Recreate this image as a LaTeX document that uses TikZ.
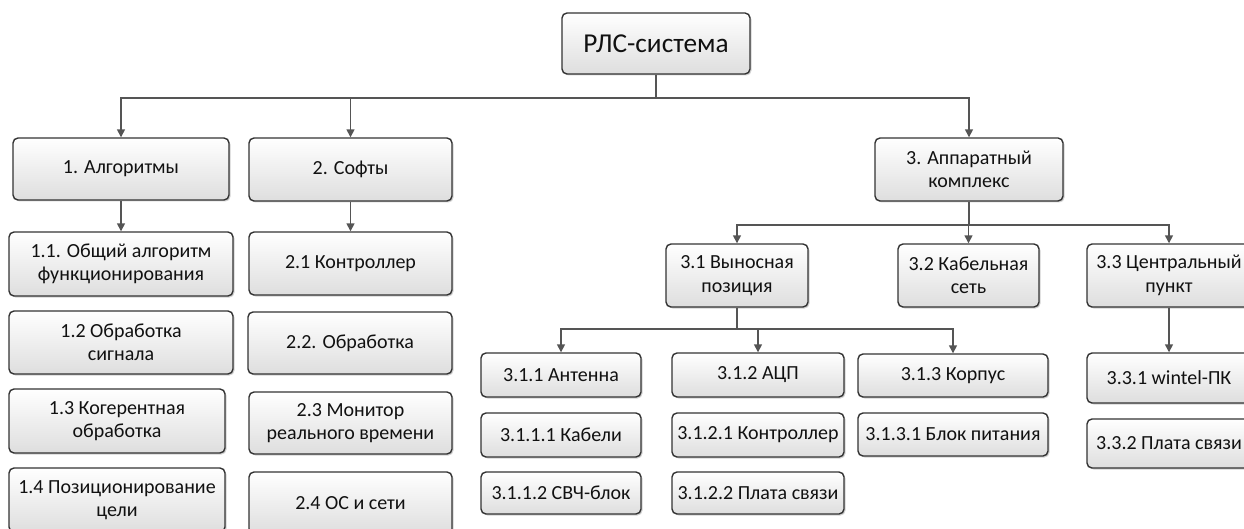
\documentclass[tikz,border=0pt]{standalone}
\usepackage{fontspec}
\setmainfont{Carlito}
\usetikzlibrary{arrows.meta,shadows}
\definecolor{bordc}{HTML}{333333}
\definecolor{linec}{HTML}{555555}
\definecolor{txtc}{HTML}{111111}
\tikzset{
  box/.style={draw=bordc, line width=1.4pt, rounded corners=5pt, top color=white, bottom color=black!13,
    inner sep=0pt, align=center, text=txtc, font=\fontsize{20}{23.5}\selectfont,
    drop shadow={shadow xshift=1.5pt, shadow yshift=-1.5pt, fill=black, opacity=0.18}},
  conn/.style={draw=linec, line width=1.5pt},
  arr/.style={conn, -{Triangle[width=8pt,length=8pt]}}
}
\newcommand\bx[6]{\node[box, minimum width={#4pt-#2pt}, minimum height={#5pt-#3pt}] (#1) at ({(#2+#4)/2},{(#3+#5)/2}) {#6};}
\begin{document}
\begin{tikzpicture}[x=1pt,y=-1pt]
\clip (0,0) rectangle (1244,529);
\fill[white] (0,0) rectangle (1244,529);
\node[box, font=\fontsize{27.3}{32}\selectfont, minimum width=188pt, minimum height=61pt] (root) at (656,43.5) {РЛС-система};
\bx{n1}{13}{138}{229}{200}{1. Алгоритмы}
\bx{n2}{249}{138}{452}{201}{2. Софты}
\bx{n3}{875}{138}{1063}{201}{3. Аппаратный\\комплекс}
\bx{n11}{9}{232}{233}{296}{1.1. Общий алгоритм\\функционирования}
\bx{n12}{9}{311}{233}{374}{1.2 Обработка\\сигнала}
\bx{n13}{9}{389}{225}{453}{1.3 Когерентная\\обработка}
\bx{n14}{9}{468}{225}{532}{1.4 Позиционирование\\цели}
\bx{n21}{249}{232}{452}{295}{2.1 Контроллер}
\bx{n22}{248}{312}{452}{374}{2.2. Обработка}
\bx{n23}{249}{392}{452}{454}{2.3 Монитор\\реального времени}
\bx{n24}{249}{472}{452}{534}{2.4 ОС и сети}
\bx{n31}{666}{244}{808}{307}{3.1 Выносная\\позиция}
\bx{n32}{898}{244}{1039}{307}{3.2 Кабельная\\сеть}
\bx{n33}{1087}{244}{1251}{307}{3.3 Центральный\\пункт}
\bx{n311}{481}{353}{641}{397}{3.1.1 Антенна}
\bx{n312}{672}{353}{844}{397}{3.1.2 АЦП}
\bx{n313}{858}{354}{1048}{397}{3.1.3 Корпус}
\bx{n3111}{481}{413}{641}{457}{3.1.1.1 Кабели}
\bx{n3112}{481}{472}{641}{514}{3.1.1.2 СВЧ-блок}
\bx{n3121}{672}{413}{844}{457}{3.1.2.1 Контроллер}
\bx{n3122}{672}{472}{844}{514}{3.1.2.2 Плата связи}
\bx{n3131}{858}{413}{1048}{456}{3.1.3.1 Блок питания}
\bx{n331}{1087}{353}{1251}{403}{3.3.1 wintel-ПК}
\bx{n332}{1087}{419}{1251}{468}{3.3.2 Плата связи}
% connectors
\coordinate (j0) at (656,98);
\draw[conn] (root.south) -- (j0);
\draw[arr] (j0) -| (n1.north);
\draw[arr] (j0) -| (n2.north);
\draw[arr] (j0) -| (n3.north);
\draw[arr] (n1.south) -- (n11.north);
\draw[arr] (n2.south) -- (n21.north);
\coordinate (j3) at (969,225);
\draw[conn] (n3.south) -- (j3);
\draw[arr] (j3) -| (n31.north);
\draw[arr] (j3) -| (n32.north);
\draw[arr] (j3) -| (n33.north);
\coordinate (j31) at (737,329);
\draw[conn] (n31.south) -- (j31);
\draw[arr] (j31) -| (n311.north);
\draw[arr] (j31) -| (n312.north);
\draw[arr] (j31) -| (n313.north);
\draw[arr] (n33.south) -- (n331.north);
\end{tikzpicture}
\end{document}
